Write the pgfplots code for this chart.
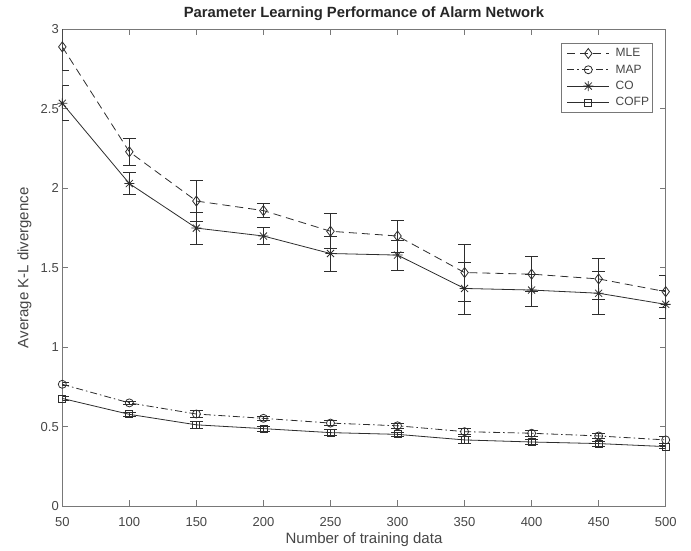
\documentclass[border=0pt]{standalone}
\usepackage{fontspec}
\setmainfont{Liberation Sans}
\usepackage{pgfplots}
\usepackage{pgfplotstable}
\pgfplotsset{compat=1.18}
\definecolor{axcol}{RGB}{120,120,120}
\definecolor{txtcol}{RGB}{70,70,70}
\definecolor{lncol}{RGB}{45,45,45}
\pgfdeclareplotmark{mstar}{%
  \pgfpathmoveto{\pgfpoint{-\pgfplotmarksize}{0pt}}\pgfpathlineto{\pgfpoint{\pgfplotmarksize}{0pt}}%
  \pgfpathmoveto{\pgfpoint{0pt}{-\pgfplotmarksize}}\pgfpathlineto{\pgfpoint{0pt}{\pgfplotmarksize}}%
  \pgfpathmoveto{\pgfpoint{-0.707\pgfplotmarksize}{-0.707\pgfplotmarksize}}\pgfpathlineto{\pgfpoint{0.707\pgfplotmarksize}{0.707\pgfplotmarksize}}%
  \pgfpathmoveto{\pgfpoint{-0.707\pgfplotmarksize}{0.707\pgfplotmarksize}}\pgfpathlineto{\pgfpoint{0.707\pgfplotmarksize}{-0.707\pgfplotmarksize}}%
  \pgfusepathqstroke}
\pgfplotstableread{
x y e
50 2.89 0.15
100 2.23 0.085
150 1.92 0.13
200 1.86 0.045
250 1.73 0.11
300 1.70 0.10
350 1.47 0.18
400 1.46 0.11
450 1.43 0.13
500 1.35 0.10
}\mle
\pgfplotstableread{
x y e
50 0.767 0.01
100 0.65 0.01
150 0.58 0.02
200 0.553 0.015
250 0.523 0.015
300 0.506 0.015
350 0.469 0.02
400 0.459 0.02
450 0.442 0.015
500 0.417 0.02
}\map
\pgfplotstableread{
x y e
50 2.535 0.11
100 2.03 0.07
150 1.75 0.10
200 1.70 0.055
250 1.59 0.11
300 1.58 0.095
350 1.37 0.165
400 1.36 0.10
450 1.34 0.135
500 1.27 0.09
}\co
\pgfplotstableread{
x y e
50 0.678 0.01
100 0.578 0.01
150 0.512 0.02
200 0.488 0.015
250 0.463 0.02
300 0.452 0.01
350 0.417 0.02
400 0.404 0.015
450 0.394 0.015
500 0.375 0.01
}\cofp
\begin{document}
\begin{tikzpicture}
\useasboundingbox (-62.3pt,-43.8pt) rectangle (628.7pt,506.2pt);
\begin{axis}[
  at={(0pt,0pt)}, anchor=south west,
  scale only axis, width=603.4pt, height=476.8pt,
  xmin=50, xmax=500, ymin=0, ymax=3,
  xtick={50,100,...,500}, ytick={0,0.5,1,1.5,2,2.5,3},
  tick align=inside, major tick length=6pt,
  axis line style={axcol, line width=0.8pt},
  tick style={axcol, line width=0.8pt},
  /pgf/number format/assume math mode=true,
  ticklabel style={font=\fontsize{13}{15}\selectfont, text=txtcol},
  xticklabel style={anchor=base, yshift=-20pt},
  yticklabel style={anchor=east, xshift=0pt},
  title={Parameter Learning Performance of Alarm Network},
  title style={at={(axis description cs:0.5,1)}, anchor=base, yshift=5.5pt, font=\fontsize{14.8}{17}\selectfont\bfseries, text=black!85},
  xlabel={Number of training data},
  every axis x label/.style={at={([yshift=-37pt]axis description cs:0.5,0)}, anchor=base, font=\fontsize{15}{18}\selectfont, text=txtcol},
  ylabel={Average K-L divergence},
  every axis y label/.style={at={([xshift=-34pt]axis description cs:0,0.5)}, rotate=90, anchor=base, font=\fontsize{15}{18}\selectfont, text=txtcol},
  clip mode=individual,
  legend style={at={(axis description cs:0.978,0.971)}, anchor=north east, draw=axcol, line width=0.8pt, font=\fontsize{12}{14}\selectfont, text=txtcol, row sep=2.5pt, inner xsep=1pt, inner ysep=3pt},
  legend cell align=left,
  legend image code/.code={\path (-4pt,0pt) (46pt,0pt); \draw[mark repeat=2,mark phase=2] plot coordinates {(0pt,0pt) (21pt,0pt) (42pt,0pt)};},
  every axis plot/.append style={lncol, line width=0.8pt},
  error bars/error bar style={solid, line width=0.8pt},
  error bars/error mark options={rotate=90, mark size=6.5pt, solid, line width=0.8pt},
]
\addplot[lncol, dash pattern=on 8pt off 5pt, mark=diamond, mark size=5pt, mark options={solid},
  error bars/.cd, y dir=both, y explicit] table[x=x, y=y, y error=e]{\mle};
\addlegendentry{MLE}
\addplot[lncol, dash pattern=on 7pt off 3pt on 1.5pt off 3pt, mark=o, mark size=4pt, mark options={solid},
  error bars/.cd, y dir=both, y explicit] table[x=x, y=y, y error=e]{\map};
\addlegendentry{MAP}
\addplot[lncol, solid, mark=mstar, mark size=5pt, mark options={solid},
  error bars/.cd, y dir=both, y explicit] table[x=x, y=y, y error=e]{\co};
\addlegendentry{CO}
\addplot[lncol, solid, mark=square, mark size=3.5pt, mark options={solid},
  error bars/.cd, y dir=both, y explicit] table[x=x, y=y, y error=e]{\cofp};
\addlegendentry{COFP}
\end{axis}
\end{tikzpicture}
\end{document}
